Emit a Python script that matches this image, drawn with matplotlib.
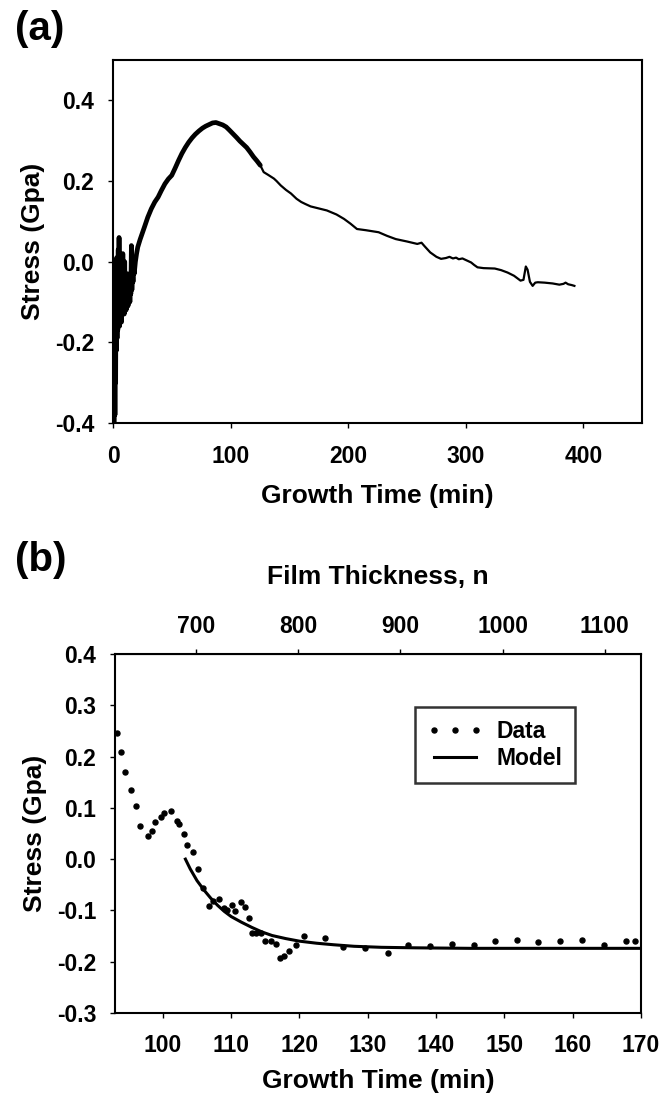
import numpy as np
import matplotlib
matplotlib.use("Agg")
import matplotlib.pyplot as plt

plt.rcParams['font.family'] = ['Liberation Sans', 'DejaVu Sans']
plt.rcParams['font.weight'] = 'bold'

# ---------------- Panel (a) data ----------------
time_a = [1.0, 1.3, 1.6, 1.9, 2.2, 2.5, 2.8, 3.1, 3.4, 3.7, 4.0, 4.4, 4.8, 5.1, 5.5, 5.9,
          6.3, 6.7, 7.1, 7.5, 7.9, 8.3, 8.7, 9.1, 9.5, 9.9, 10.3, 10.7, 11.1, 11.5, 11.9,
          12.3, 12.7, 13.1, 13.5, 13.9, 14.3, 14.7, 15.1, 15.6, 16.0, 16.5, 17.0, 17.5,
          18.0, 19.0, 20.0, 21.0, 23.0, 26.7, 29.5, 32.5, 35.5, 38.3, 41.0, 44.1, 47.0,
          49.9, 52.8, 55.7, 58.5, 61.4, 64.3, 67.2, 70.0, 73.0, 76.0, 78.8, 81.7, 84.6,
          87.5, 90.4, 93.3, 96.2, 99.0, 102.0, 105.0, 107.8, 110.7, 113.6, 116.5, 119.4,
          122.3, 125.2, 128.1, 132.0, 136.8, 139.0, 142.6, 147.0, 151.3, 156.0, 160.0,
          163.5, 168.0, 175.0, 181.8, 190.0, 196.4, 202.0, 207.4, 215.0, 225.8, 233.0,
          240.4, 250.0, 258.7, 262.3, 265.0, 269.7, 275.0, 278.9, 283.0, 286.1, 289.0,
          291.7, 294.0, 297.1, 300.0, 304.5, 307.0, 309.9, 315.0, 324.6, 330.0, 335.5,
          341.0, 346.5, 349.0, 351.0, 352.5, 354.5, 356.8, 359.0, 361.2, 367.0, 373.8,
          379.5, 383.0, 384.8, 387.0, 390.0, 392.3]
stress_a = [-0.40, -0.02, -0.38, 0.00, -0.30, -0.03, -0.22, 0.01, -0.19, -0.04, -0.17, 0.03,
            -0.14, 0.06, -0.16, 0.02, -0.12, 0.00, -0.15, -0.01, -0.13, 0.02, -0.12, -0.02,
            -0.13, 0.00, -0.11, -0.03, -0.12, -0.04, -0.10, -0.03, -0.11, -0.05, -0.09,
            -0.04, -0.10, -0.05, -0.08, 0.04, -0.07, -0.02, -0.05, -0.01, -0.03, 0.00,
            0.02, 0.036, 0.055, 0.086, 0.11, 0.131, 0.148, 0.16, 0.176, 0.193, 0.205,
            0.214, 0.232, 0.251, 0.268, 0.283, 0.296, 0.307, 0.316, 0.324, 0.331, 0.336,
            0.34, 0.344, 0.345, 0.342, 0.339, 0.334, 0.326, 0.317, 0.308, 0.299, 0.291,
            0.283, 0.272, 0.26, 0.25, 0.239, 0.222, 0.215, 0.206, 0.200, 0.189, 0.178,
            0.169, 0.156, 0.148, 0.143, 0.137, 0.132, 0.127, 0.117, 0.106, 0.094, 0.081,
            0.078, 0.073, 0.064, 0.056, 0.050, 0.044, 0.047, 0.038, 0.023, 0.012, 0.007,
            0.009, 0.012, 0.008, 0.010, 0.006, 0.008, 0.004, -0.002, -0.008, -0.014,
            -0.016, -0.017, -0.021, -0.027, -0.035, -0.047, -0.045, -0.012, -0.020,
            -0.050, -0.060, -0.052, -0.051, -0.052, -0.054, -0.057, -0.055, -0.052,
            -0.056, -0.058, -0.060]

# ---------------- Panel (b) data ----------------
time_b = [93.3, 93.9, 94.4, 95.3, 96.0, 96.7, 97.8, 98.4, 98.9, 99.7, 100.1, 101.2, 102.1,
          102.4, 103.1, 103.6, 104.4, 105.2, 105.9, 106.7, 107.4, 108.2, 109.0, 109.4,
          110.1, 110.6, 111.4, 112.0, 112.6, 113.0, 113.6, 114.4, 115.0, 115.9, 116.5,
          117.2, 117.8, 118.5, 119.5, 120.7, 123.7, 126.4, 129.6, 132.9, 135.9, 139.1,
          142.3, 145.5, 148.7, 151.9, 155.0, 158.2, 161.4, 164.6, 167.8, 169.1]
stress_b = [0.245, 0.208, 0.169, 0.135, 0.104, 0.065, 0.046, 0.054, 0.073, 0.083, 0.090,
            0.093, 0.075, 0.068, 0.049, 0.028, 0.013, -0.019, -0.056, -0.092, -0.082,
            -0.077, -0.095, -0.099, -0.089, -0.101, -0.084, -0.094, -0.114, -0.144,
            -0.144, -0.145, -0.159, -0.159, -0.166, -0.193, -0.188, -0.180, -0.167,
            -0.149, -0.153, -0.171, -0.173, -0.183, -0.167, -0.169, -0.165, -0.168,
            -0.160, -0.158, -0.162, -0.160, -0.158, -0.167, -0.160, -0.160]

model_time = [103.3, 104.0, 105.0, 106.0, 107.0, 108.0, 109.0, 110.0, 111.5, 113.0, 114.5,
              116.0, 118.0, 120.0, 122.5, 125.0, 128.0, 132.0, 137.0, 145.0, 170.0]
model_stress = [0.0, -0.019, -0.042, -0.060, -0.076, -0.090, -0.102, -0.112, -0.123,
                -0.133, -0.142, -0.149, -0.155, -0.160, -0.164, -0.167, -0.170, -0.172,
                -0.173, -0.174, -0.174]

thick_ticks = [700, 800, 900, 1000, 1100]
n_at_t_ref = 700.0
t_ref = 104.9
n_per_min = 6.69

fig = plt.figure(figsize=(6.69, 10.99), dpi=100)

tick_fs = 16.5
label_fs = 19

def style(ax):
    for s in ax.spines.values():
        s.set_linewidth(1.5)
    ax.tick_params(axis='x', direction='out', length=3.5, width=1.0, labelsize=tick_fs, pad=12)
    ax.tick_params(axis='y', direction='out', length=3.5, width=1.0, labelsize=tick_fs, pad=10)
    for lab in ax.get_xticklabels() + ax.get_yticklabels():
        lab.set_fontweight('bold')

# ---- (a) ----
ax1 = fig.add_axes([0.169, 0.6151, 0.791, 0.3303])
ta = np.array(time_a)
sa = np.array(stress_a)
ax1.plot(ta, sa, color='black', lw=1.6)
band = ta <= 128
ax1.plot(ta[band], sa[band], color='black', lw=3.4, solid_capstyle='round')
ax1.set_xlim(0, 450)
ax1.set_ylim(-0.4, 0.5)
ax1.set_xticks([0, 100, 200, 300, 400])
ax1.set_yticks([-0.4, -0.2, 0.0, 0.2, 0.4])
ax1.set_yticklabels(['-0.4', '-0.2', '0.0', '0.2', '0.4'])
style(ax1)
ax1.set_xlabel('Growth Time (min)', fontsize=label_fs, fontweight='bold', labelpad=12)
ax1.set_ylabel('Stress (Gpa)', fontsize=label_fs, fontweight='bold', labelpad=7)
fig.text(0.022, 0.9735, '(a)', fontsize=29, fontweight='bold', va='center', ha='left')

# ---- (b) ----
ax2 = fig.add_axes([0.172, 0.0783, 0.786, 0.3266])
ax2.plot(time_b, stress_b, linestyle='none', marker='o', markersize=3.6,
         color='black', label='Data')
ax2.plot(model_time, model_stress, color='black', lw=2.2, label='Model')
ax2.set_xlim(93, 170)
ax2.set_ylim(-0.3, 0.4)
ax2.set_xticks([100, 110, 120, 130, 140, 150, 160, 170])
ax2.set_yticks([-0.3, -0.2, -0.1, 0.0, 0.1, 0.2, 0.3, 0.4])
ax2.set_yticklabels(['-0.3', '-0.2', '-0.1', '0.0', '0.1', '0.2', '0.3', '0.4'])
style(ax2)
ax2.set_xlabel('Growth Time (min)', fontsize=label_fs, fontweight='bold', labelpad=8)
ax2.set_ylabel('Stress (Gpa)', fontsize=label_fs, fontweight='bold', labelpad=7)

def t2n(t):
    return n_at_t_ref + n_per_min * (np.asarray(t) - t_ref)

def n2t(n):
    return t_ref + (np.asarray(n) - n_at_t_ref) / n_per_min

top = ax2.secondary_xaxis('top', functions=(t2n, n2t))
top.set_xticks(thick_ticks)
top.tick_params(direction='out', length=3.5, width=1.0, labelsize=tick_fs, pad=8)
for lab in top.get_xticklabels():
    lab.set_fontweight('bold')
top.set_xlabel('Film Thickness, n', fontsize=label_fs, fontweight='bold', labelpad=22)

leg = ax2.legend(loc='upper left', bbox_to_anchor=(0.570, 0.852), borderaxespad=0,
                 numpoints=3, frameon=True, fancybox=False, handlelength=2.4,
                 borderpad=0.55, labelspacing=0.2, handletextpad=0.6,
                 prop={'weight': 'bold', 'size': 16.5})
leg.get_frame().set_edgecolor('black')
leg.get_frame().set_linewidth(1.8)

fig.text(0.022, 0.4904, '(b)', fontsize=29, fontweight='bold', va='center', ha='left')

fig.savefig('out.png', dpi=100)
